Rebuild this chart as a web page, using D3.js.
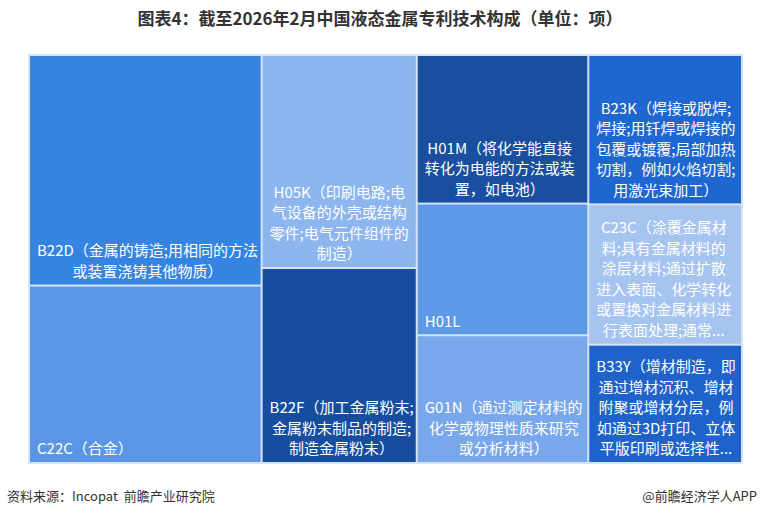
<!DOCTYPE html>
<html>
<head>
<meta charset="utf-8">
<script src="https://cdn.jsdelivr.net/npm/d3@7"></script>
<style>
  html, body { margin: 0; padding: 0; background: #ffffff; }
  svg { display: block; }
  text { font-family: "Noto Sans CJK SC", "Noto Sans", sans-serif; }
</style>
</head>
<body>
<svg id="chart" width="760" height="517"></svg>
<script>
// ---- data ----
const title = "图表4：截至2026年2月中国液态金属专利技术构成（单位：项）";
const sourceText = "资料来源：Incopat  前瞻产业研究院";
const creditText = "@前瞻经济学人APP";

// column groups of the treemap (as laid out in the reference)
const columns = ["c1", "c2", "c3", "c4"];
const codes = ["B22D", "C22C", "H05K", "B22F", "H01M", "H01L", "G01N", "B23K", "C23C", "B33Y"];
const codeColumn = ["c1", "c1", "c2", "c2", "c3", "c3", "c3", "c4", "c4", "c4"];
const values = [2144, 1650, 1321, 1209, 1019, 903, 876, 918, 862, 727];
const labelLines = [
  ["B22D（金属的铸造;用相同的方法", "或装置浇铸其他物质）"],
  ["C22C（合金）"],
  ["H05K（印刷电路;电", "气设备的外壳或结构", "零件;电气元件组件的", "制造）"],
  ["B22F（加工金属粉末;", "金属粉末制品的制造;", "制造金属粉末）"],
  ["H01M（将化学能直接", "转化为电能的方法或装", "置，如电池）"],
  ["H01L"],
  ["G01N（通过测定材料的", "化学或物理性质来研究", "或分析材料）"],
  ["B23K（焊接或脱焊;", "焊接;用钎焊或焊接的", "包覆或镀覆;局部加热", "切割，例如火焰切割;", "用激光束加工）"],
  ["C23C（涂覆金属材", "料;具有金属材料的", "涂层材料;通过扩散", "进入表面、化学转化", "或置换对金属材料进", "行表面处理;通常..."],
  ["B33Y（增材制造，即", "通过增材沉积、增材", "附聚或增材分层，例", "如通过3D打印、立体", "平版印刷或选择性..."]
];
const colors = ["#3584e2", "#5b96e6", "#8db5ee", "#164d9f", "#1a4fa0", "#5d99e7", "#79a7eb", "#1f67d0", "#a6c4f0", "#1e62ca"];

// ---- build ----
const svg = d3.select("#chart");

svg.append("text")
  .attr("x", 380).attr("y", 25)
  .attr("text-anchor", "middle")
  .attr("font-size", 17).attr("font-weight", "bold")
  .attr("fill", "#333333")
  .text(title);

const box = { x: 28, y: 54, w: 715, h: 410 };

const rootData = {
  name: "root",
  children: columns.map(c => ({
    name: c,
    children: codes.map((code, i) => ({ code, i, value: values[i], col: codeColumn[i] }))
                   .filter(d => d.col === c)
  }))
};

const root = d3.hierarchy(rootData).sum(d => d.value || 0);
d3.treemap()
  .tile(d3.treemapSliceDice)
  .size([box.w, box.h])
  .paddingInner(2)
  .paddingOuter(d => d.depth === 0 ? 2 : 0)
  .round(false)(root);

const g = svg.append("g").attr("transform", `translate(${box.x},${box.y})`);

g.append("rect")
  .attr("x", 0).attr("y", 0).attr("width", box.w).attr("height", box.h)
  .attr("fill", "#d6e3f3");

const leaves = g.selectAll("g.leaf").data(root.leaves()).join("g").attr("class", "leaf");

leaves.append("rect")
  .attr("x", d => d.x0).attr("y", d => d.y0)
  .attr("width", d => d.x1 - d.x0).attr("height", d => d.y1 - d.y0)
  .attr("fill", d => colors[d.data.i]);

const fs = 15, lh = 20.5, padL = 7, padB = 13;
const canvas = document.createElement("canvas").getContext("2d");
canvas.font = `${fs}px "Noto Sans CJK SC"`;

leaves.each(function(d) {
  const lines = labelLines[d.data.i];
  const widths = lines.map(l => canvas.measureText(l).width);
  const bw = Math.max(...widths);
  const cx = d.x0 + padL + bw / 2;
  const lastY = d.y1 - padB;
  const t = d3.select(this).append("text")
    .attr("font-size", fs)
    .attr("fill", "#ffffff")
    .attr("text-anchor", "middle");
  lines.forEach((l, k) => {
    t.append("tspan")
      .attr("x", cx)
      .attr("y", lastY - (lines.length - 1 - k) * lh)
      .attr("dy", "0.35em")
      .text(l);
  });
});

svg.append("text")
  .attr("x", 7).attr("y", 501)
  .attr("font-size", 13).attr("fill", "#333333")
  .attr("xml:space", "preserve")
  .text(sourceText);

svg.append("text")
  .attr("x", 757).attr("y", 501)
  .attr("text-anchor", "end")
  .attr("font-size", 13).attr("fill", "#333333")
  .text(creditText);
</script>
</body>
</html>
